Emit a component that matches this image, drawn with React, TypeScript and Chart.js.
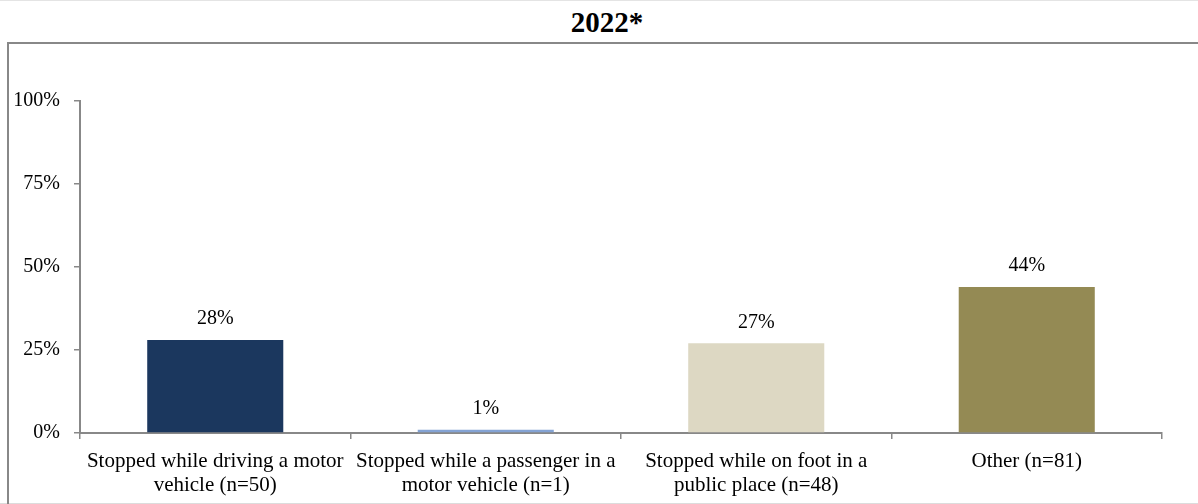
import React, { useEffect, useRef } from "react";
import { Chart, registerables } from "chart.js";

Chart.register(...registerables);

const titleText = "2022*";
const categories: (string | string[])[] = [
  ["Stopped while driving a motor", "vehicle (n=50)"],
  ["Stopped while a passenger in a", "motor vehicle (n=1)"],
  ["Stopped while on foot in a", "public place (n=48)"],
  "Other (n=81)",
];
const values = [28, 1, 27, 44];
const barColors = ["#1B375E", "#84A3D4", "#DDD8C3", "#948A54"];
const yTicks = [0, 25, 50, 75, 100];

const SERIF = "'Liberation Serif', 'Times New Roman', serif";

export default function App() {
  const ref = useRef<HTMLCanvasElement | null>(null);

  useEffect(() => {
    if (!ref.current) return;
    const labelPlugin = {
      id: "barLabels",
      afterDatasetsDraw(chart: any) {
        const ctx = chart.ctx;
        const meta = chart.getDatasetMeta(0);
        ctx.save();
        ctx.font = `20px ${SERIF}`;
        ctx.fillStyle = "#000";
        ctx.textAlign = "center";
        ctx.textBaseline = "middle";
        meta.data.forEach((el: any, i: number) => {
          ctx.fillText(values[i] + "%", el.x, el.y - 21);
        });
        ctx.restore();
      },
    };
    const chart = new Chart(ref.current, {
      type: "bar",
      data: {
        labels: categories,
        datasets: [
          {
            data: values,
            backgroundColor: barColors,
            borderWidth: 0,
            categoryPercentage: 1,
            barPercentage: 0.503,
          },
        ],
      },
      options: {
        animation: false,
        responsive: false,
        maintainAspectRatio: false,
        layout: { padding: { left: 10, right: 36, top: 101, bottom: 5 } },
        plugins: {
          legend: { display: false },
          tooltip: { enabled: false },
          title: { display: false },
        },
        scales: {
          x: {
            offset: true,
            grid: {
              offset: true,
              drawOnChartArea: false,
              drawTicks: true,
              tickLength: 6,
              color: "#888888",
              lineWidth: 1.5,
            },
            border: { display: true, color: "#888888", width: 2 },
            ticks: {
              color: "#000",
              font: { family: SERIF, size: 21, lineHeight: 1.17 },
              padding: 10,
              maxRotation: 0,
              autoSkip: false,
            },
            afterFit(scale: any) {
              scale.height = 66;
            },
          },
          y: {
            min: 0,
            max: 100,
            afterBuildTicks(scale: any) {
              scale.ticks = yTicks.map((v) => ({ value: v }));
            },
            grid: {
              drawOnChartArea: false,
              drawTicks: true,
              tickLength: 6,
              color: "#888888",
              lineWidth: 1.5,
            },
            border: { display: true, color: "#888888", width: 2 },
            ticks: {
              color: "#000",
              font: { family: SERIF, size: 20 },
              padding: 14,
              callback: (v: any) => v + "%",
            },
            afterFit(scale: any) {
              scale.width = 70;
            },
          },
        },
      },
      plugins: [labelPlugin],
    });
    return () => chart.destroy();
  }, []);

  return (
    <div
      style={{
        position: "absolute",
        left: 0,
        top: 0,
        width: 1198,
        height: 504,
        background: "#fff",
        overflow: "hidden",
      }}
    >
      <div style={{ position: "absolute", left: 0, top: 0, width: 1198, height: 1, background: "#e4e4e4" }} />
      <div style={{ position: "absolute", left: 0, top: 503, width: 1198, height: 1, background: "#dcdcdc" }} />
      <div
        style={{
          position: "absolute",
          left: 7,
          top: 42,
          width: 1200,
          height: 470,
          borderTop: "2px solid #888888",
          borderLeft: "2px solid #888888",
        }}
      />
      <div
        style={{
          position: "absolute",
          left: 407,
          top: 4,
          width: 400,
          textAlign: "center",
          fontFamily: SERIF,
          fontWeight: "bold",
          fontSize: 29,
          lineHeight: "36px",
          color: "#000",
        }}
      >
        {titleText}
      </div>
      <canvas
        ref={ref}
        width={1198}
        height={504}
        style={{ position: "absolute", left: 0, top: 0, width: 1198, height: 504 }}
      />
    </div>
  );
}
